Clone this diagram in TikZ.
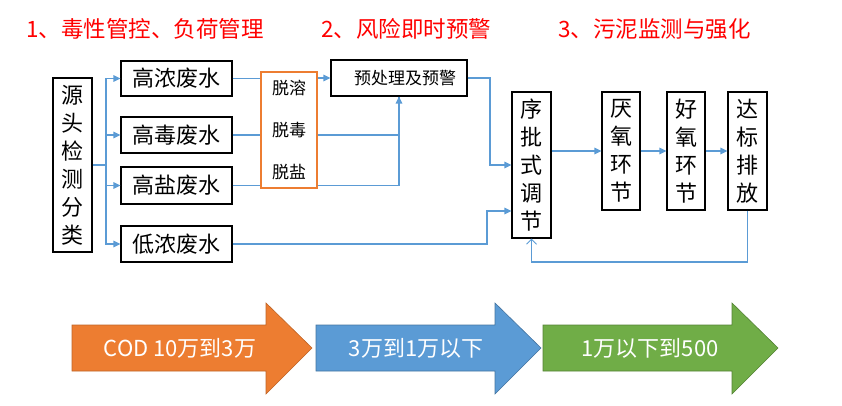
\documentclass[tikz,border=0pt]{standalone}
\usepackage{fontspec}
\setmainfont{Noto Sans CJK SC}
\usetikzlibrary{arrows.meta,calc}
\definecolor{lineblue}{HTML}{5B9BD5}
\definecolor{borange}{HTML}{ED7D31}
\definecolor{bblue}{HTML}{5B9BD5}
\definecolor{bgreen}{HTML}{70AD47}
\definecolor{titlered}{HTML}{FF0000}
\begin{document}
\begin{tikzpicture}[x=1pt,y=-1pt,
  box/.style={draw=black,line width=1.1pt,inner sep=0pt,align=center,font=\fontsize{22}{28}\selectfont},
  vbox/.style={box},
  conn/.style={draw=lineblue,line width=1.3pt},
  arr/.style={conn,-{Triangle[length=7pt,width=6.5pt]}},
  fb/.style={conn,-{Straight Barb[length=5pt,width=10pt,line width=1pt]}},
  title/.style={anchor=west,text=titlered,font=\fontsize{22.5}{26}\selectfont,inner sep=0pt},
  small/.style={font=\fontsize{17}{20}\selectfont,inner sep=0pt},
  bigtxt/.style={text=white,font=\fontsize{22}{26}\selectfont,inner sep=0pt}
]
\useasboundingbox (0,0) rectangle (842,406);

% titles
\node[title] (t1) at (26,29) {1、毒性管控、负荷管理};
\node[title] (t2) at (321,29) {2、风险即时预警};
\node[title] (t3) at (558,29) {3、污泥监测与强化};

% boxes
\node[vbox,minimum width=39pt,minimum height=174pt] (src) at (72.5,165) {源\\头\\检\\测\\分\\类};
\node[box,minimum width=111pt,minimum height=35pt] (hc) at (176.5,78.5) {高浓废水};
\node[box,minimum width=111pt,minimum height=36pt] (ht) at (176.5,135) {高毒废水};
\node[box,minimum width=111pt,minimum height=37pt] (hs) at (176.5,185.5) {高盐废水};
\node[box,minimum width=111pt,minimum height=36pt] (lc) at (176.5,244) {低浓废水};

\node[draw=borange,line width=1.1pt,minimum width=56pt,minimum height=116pt,inner sep=0pt] (tr) at (289,130) {};
\node[small] (tr1) at (289,88) {脱溶};
\node[small] (tr2) at (289,130) {脱毒};
\node[small] (tr3) at (289,172) {脱盐};

\node[draw=black,line width=1.1pt,minimum width=136pt,minimum height=36pt,inner sep=0pt] (pre) at (399,78) {};
\node[small] (pretxt) at (405,78) {预处理及预警};

\node[vbox,minimum width=39pt,minimum height=146pt] (sbr) at (531.5,165) {序\\批\\式\\调\\节};
\node[vbox,minimum width=38pt,minimum height=118pt] (ana) at (621,151) {厌\\氧\\环\\节};
\node[vbox,minimum width=38pt,minimum height=118pt] (aer) at (686,151) {好\\氧\\环\\节};
\node[vbox,minimum width=39pt,minimum height=118pt] (dis) at (747.5,151) {达\\标\\排\\放};

% connectors
\coordinate (br) at (106,165);
\draw[conn] (src.east |- br) -- (br);
\draw[arr] (br) |- (hc.west);
\draw[arr] (br) |- (ht.west);
\draw[arr] (br) |- (hs.west);
\draw[arr] (br) |- (lc.west);

\draw[conn] (hc.east) -- (hc.east -| tr.west);
\draw[conn] (ht.east) -- (ht.east -| tr.west);
\draw[conn] (hs.east) -- (hs.east -| tr.west);

\draw[arr] (tr.east |- pre.west) -- (pre.west);
\draw[conn] (tr.east |- ht.east) -| (pre.south);
\draw[arr] (tr.east |- hs.east) -| (pre.south);

\coordinate (c0) at (490,78);
\draw[arr] (pre.east) -- (c0) |- (sbr.west);

\coordinate (c1) at (487,211);
\draw[arr] (lc.east) -| (c1) -- (c1 -| sbr.west);

\draw[arr] (sbr.east |- ana.west) -- (ana.west);
\draw[arr] (ana.east) -- (aer.west);
\draw[arr] (aer.east) -- (dis.west);

\coordinate (c2) at (747.5,262);
\draw[fb] (dis.south) -- (c2) -| (sbr.south);

% big arrows
\filldraw[fill=borange,draw=borange!80!black,line width=0.6pt]
  (72,325) -- (266,325) -- (266,303) -- (312,348) -- (266,394) -- (266,371) -- (72,371) -- cycle;
\filldraw[fill=bblue,draw=bblue!75!black,line width=0.6pt]
  (316,325) -- (495,325) -- (495,303) -- (541,348) -- (495,394) -- (495,371) -- (316,371) -- cycle;
\filldraw[fill=bgreen,draw=bgreen!75!black,line width=0.6pt]
  (543,325) -- (732,325) -- (732,303) -- (778,348) -- (732,394) -- (732,371) -- (543,371) -- cycle;
\node[bigtxt] (a1) at (180,348) {COD 10万到3万};
\node[bigtxt] (a2) at (416,348) {3万到1万以下};
\node[bigtxt] (a3) at (650,348) {1万以下到500};
\end{tikzpicture}
\end{document}
